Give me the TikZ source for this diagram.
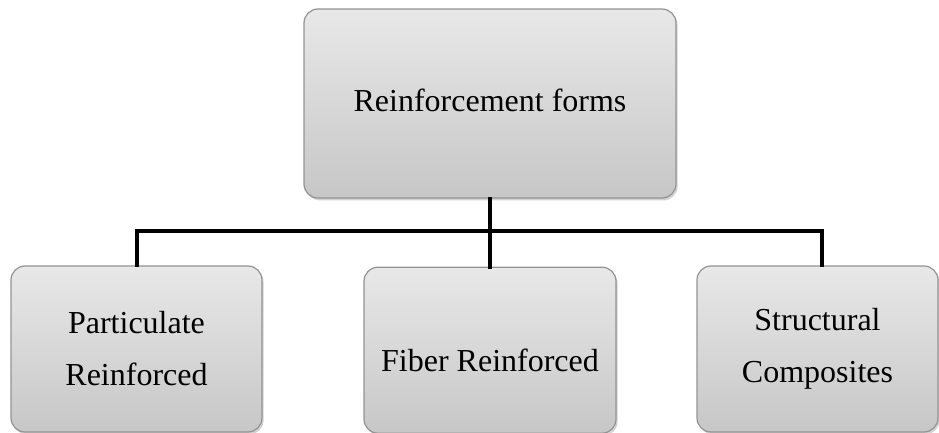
\documentclass[tikz,border=0pt]{standalone}
\usepackage{fontspec}
\setmainfont{Liberation Serif}
\usetikzlibrary{positioning, shadows}
\tikzset{
	formbox/.style={draw=gray!85, line width=0.6pt, rounded corners=7pt,
		top color=gray!18, bottom color=gray!44, align=center,
		drop shadow={opacity=0.35, shadow xshift=0.8pt, shadow yshift=-1.2pt},
		font=\fontsize{16}{26}\selectfont},
	link/.style={line width=2pt, line cap=rect}
}
\begin{document}
\begin{tikzpicture}
	\useasboundingbox (0,0) rectangle (469.5pt,-216.5pt);
	\node[formbox, minimum width=186pt, minimum height=94.5pt] (forms) at (245pt,-51.75pt) {\raisebox{1.5pt}[\height][\depth]{Reinforcement forms}};

	\node[formbox, minimum width=126pt, minimum height=83pt, below=34pt of forms] (fiber) {\raisebox{-5pt}[\height][\depth]{Fiber Reinforced}};
	\node[formbox, minimum width=125.5pt, minimum height=83pt] (particulate) at (68.25pt,-174.5pt) {Particulate\\Reinforced};
	\node[formbox, minimum width=120.5pt, minimum height=83pt] (structural) at (408.75pt,-174.5pt) {Structural\\Composites};

	\coordinate[below=16pt of forms.south] (split);
	\draw[link] (forms.south) -- (split);
	\draw[link] (split) -| (particulate.north);
	\draw[link] (split) -- (fiber.north);
	\draw[link] (split) -| ([xshift=2.25pt]structural.north);
\end{tikzpicture}
\end{document}
